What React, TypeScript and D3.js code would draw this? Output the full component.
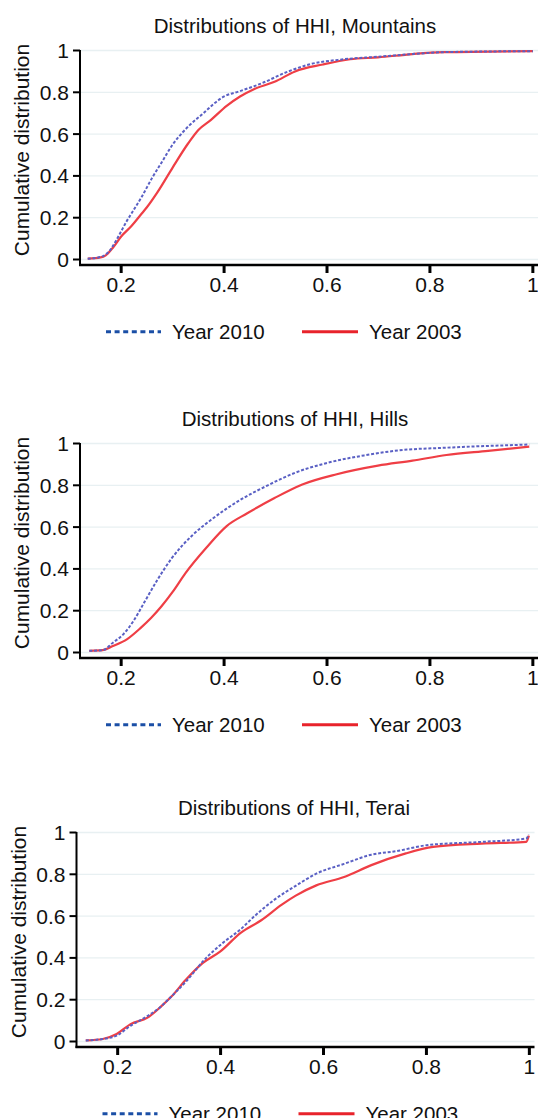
import React from "react";
import * as d3 from "d3";

const xTicks = [0.2, 0.4, 0.6, 0.8, 1];
const xTickLabels = ["0.2", "0.4", "0.6", "0.8", "1"];
const yTicks = [0, 0.2, 0.4, 0.6, 0.8, 1];
const yTickLabels = ["0", "0.2", "0.4", "0.6", "0.8", "1"];
const seriesNames = ["Year 2010", "Year 2003"];
const panelTitles = [
  "Distributions of HHI, Mountains",
  "Distributions of HHI, Hills",
  "Distributions of HHI, Terai",
];
const yAxisTitle = "Cumulative distribution";

// Mountains
const mountainsX2010 = [0.135, 0.16, 0.18, 0.19, 0.2, 0.21, 0.22, 0.24, 0.26, 0.28, 0.3, 0.32, 0.344, 0.36, 0.38, 0.4, 0.43, 0.472, 0.525, 0.565, 0.632, 0.699, 0.766, 0.826, 0.9, 1.0];
const mountainsY2010 = [0.004, 0.012, 0.05, 0.09, 0.135, 0.18, 0.22, 0.3, 0.39, 0.47, 0.55, 0.61, 0.667, 0.7, 0.745, 0.78, 0.805, 0.842, 0.9, 0.933, 0.958, 0.97, 0.983, 0.992, 0.995, 0.997];
const mountainsX2003 = [0.135, 0.16, 0.17, 0.185, 0.2, 0.22, 0.24, 0.25, 0.27, 0.3, 0.33, 0.35, 0.374, 0.405, 0.431, 0.458, 0.498, 0.538, 0.592, 0.645, 0.699, 0.766, 0.826, 1.0];
const mountainsY2003 = [0.004, 0.01, 0.02, 0.06, 0.11, 0.16, 0.22, 0.25, 0.32, 0.44, 0.555, 0.62, 0.667, 0.735, 0.78, 0.815, 0.85, 0.9, 0.933, 0.958, 0.967, 0.983, 0.992, 0.997];

// Hills
const hillsX2010 = [0.138, 0.164, 0.184, 0.204, 0.224, 0.245, 0.271, 0.298, 0.338, 0.378, 0.432, 0.485, 0.538, 0.605, 0.672, 0.739, 0.832, 0.993];
const hillsY2010 = [0.008, 0.011, 0.047, 0.087, 0.151, 0.24, 0.35, 0.45, 0.56, 0.641, 0.731, 0.8, 0.86, 0.91, 0.943, 0.967, 0.98, 0.995];
const hillsX2003 = [0.138, 0.164, 0.184, 0.211, 0.238, 0.258, 0.278, 0.3, 0.325, 0.365, 0.405, 0.445, 0.498, 0.552, 0.619, 0.699, 0.766, 0.832, 0.913, 0.993];
const hillsY2003 = [0.008, 0.011, 0.031, 0.063, 0.118, 0.165, 0.22, 0.29, 0.38, 0.5, 0.605, 0.666, 0.739, 0.804, 0.853, 0.894, 0.918, 0.945, 0.965, 0.985];

// Terai
const teraiX2010 = [0.138, 0.171, 0.198, 0.225, 0.258, 0.285, 0.298, 0.332, 0.372, 0.405, 0.439, 0.466, 0.506, 0.546, 0.586, 0.64, 0.693, 0.74, 0.8, 0.907, 0.994, 0.999];
const teraiY2010 = [0.005, 0.012, 0.028, 0.075, 0.122, 0.169, 0.2, 0.285, 0.4, 0.473, 0.537, 0.6, 0.681, 0.745, 0.803, 0.85, 0.894, 0.91, 0.939, 0.955, 0.971, 0.99];
const teraiX2003 = [0.138, 0.171, 0.198, 0.225, 0.258, 0.285, 0.305, 0.332, 0.365, 0.399, 0.439, 0.479, 0.519, 0.546, 0.586, 0.64, 0.693, 0.76, 0.813, 0.907, 0.994, 0.999];
const teraiY2003 = [0.005, 0.012, 0.036, 0.083, 0.114, 0.169, 0.216, 0.294, 0.375, 0.43, 0.52, 0.58, 0.655, 0.698, 0.747, 0.787, 0.844, 0.9, 0.931, 0.947, 0.955, 0.985];

const panelData = [
  { x10: mountainsX2010, y10: mountainsY2010, x03: mountainsX2003, y03: mountainsY2003 },
  { x10: hillsX2010, y10: hillsY2010, x03: hillsX2003, y03: hillsY2003 },
  { x10: teraiX2010, y10: teraiY2010, x03: teraiX2003, y03: teraiY2003 },
];

const offsets = [
  { dx: 0, dy: 0 },
  { dx: 0, dy: 393 },
  { dx: -3.5, dy: 782 },
];

const FONT = "'Liberation Sans', Arial, Helvetica, sans-serif";
const BLUE_PLOT = "#5a60c4";
const RED_PLOT = "#ef3e45";
const BLUE_LEG = "#1b4fa6";
const RED_LEG = "#e8232b";

function Panel({ idx }: { idx: number }) {
  const { dx, dy } = offsets[idx];
  const d = panelData[idx];
  const x = d3.scaleLinear().domain([0.12, 1.01]).range([80 + dx, 538 + dx]);
  const y = d3.scaleLinear().domain([0, 1]).range([259.5 + dy, 50.5 + dy]);
  const axisY = 265 + dy;
  const line = d3
    .line<[number, number]>()
    .x((p) => x(p[0]))
    .y((p) => y(p[1]))
    .curve(d3.curveMonotoneX);
  const pts10 = d.x10.map((v, i) => [v, d.y10[i]] as [number, number]);
  const pts03 = d.x03.map((v, i) => [v, d.y03[i]] as [number, number]);
  const legY = 331.7 + dy;
  return (
    <g>
      <text x={295 + dx * 0.3} y={33 + dy} textAnchor="middle" fontSize={20.5} fontFamily={FONT} fill="#111">
        {panelTitles[idx]}
      </text>
      {yTicks.map((t) => (
        <line key={"g" + t} x1={x.range()[0]} x2={x.range()[1]} y1={y(t)} y2={y(t)} stroke="#e8f0f2" strokeWidth={1.3} />
      ))}
      <path d={line(pts03) || ""} fill="none" stroke={RED_PLOT} strokeWidth={2.2} strokeLinejoin="round" />
      <path d={line(pts10) || ""} fill="none" stroke={BLUE_PLOT} strokeWidth={2} strokeDasharray="3,1.8" />
      <line x1={80 + dx} x2={80 + dx} y1={50 + dy} y2={axisY + 1} stroke="#000" strokeWidth={2} />
      <line x1={79 + dx} x2={538 + dx} y1={axisY} y2={axisY} stroke="#000" strokeWidth={2.5} />
      {yTicks.map((t, i) => (
        <g key={"yt" + t}>
          <line x1={73 + dx} x2={80 + dx} y1={y(t)} y2={y(t)} stroke="#000" strokeWidth={2} />
          <text x={69 + dx} y={y(t) + 7.5} textAnchor="end" fontSize={21} fontFamily={FONT} fill="#111">
            {yTickLabels[i]}
          </text>
        </g>
      ))}
      {xTicks.map((t, i) => (
        <g key={"xt" + t}>
          <line x1={x(t)} x2={x(t)} y1={axisY} y2={axisY + 8} stroke="#000" strokeWidth={3} />
          <text x={x(t)} y={292 + dy} textAnchor="middle" fontSize={21} fontFamily={FONT} fill="#111">
            {xTickLabels[i]}
          </text>
        </g>
      ))}
      <text
        transform={`translate(${29 + dx},${150 + dy}) rotate(-90)`}
        textAnchor="middle"
        fontSize={21}
        fontFamily={FONT}
        fill="#111"
      >
        {yAxisTitle}
      </text>
      <line x1={106 + dx} x2={161 + dx} y1={legY} y2={legY} stroke={BLUE_LEG} strokeWidth={3} strokeDasharray="5,3.6" />
      <text x={172 + dx} y={legY + 7} fontSize={20.5} fontFamily={FONT} fill="#111">
        {seriesNames[0]}
      </text>
      <line x1={302 + dx} x2={358 + dx} y1={legY} y2={legY} stroke={RED_LEG} strokeWidth={3} />
      <text x={369 + dx} y={legY + 7} fontSize={20.5} fontFamily={FONT} fill="#111">
        {seriesNames[1]}
      </text>
    </g>
  );
}

export default function App() {
  return (
    <svg
      width={538}
      height={1118}
      viewBox="0 0 538 1118"
      style={{ position: "absolute", left: 0, top: 0, display: "block", background: "#fff" }}
    >
      <rect width={538} height={1118} fill="#fff" />
      {[0, 1, 2].map((i) => (
        <Panel key={i} idx={i} />
      ))}
    </svg>
  );
}
